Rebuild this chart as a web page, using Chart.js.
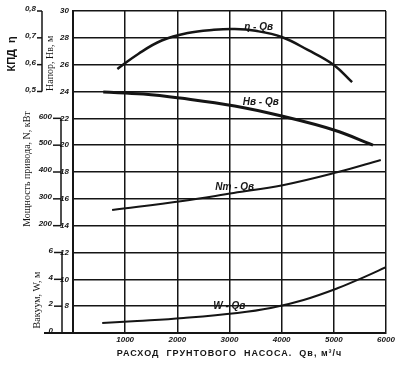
<!DOCTYPE html>
<html lang="ru">
<head>
<meta charset="utf-8">
<script src="https://cdn.jsdelivr.net/npm/chart.js@4/dist/chart.umd.min.js"></script>
<style>
  html, body { margin: 0; padding: 0; background: #fff; }
  #wrap { width: 411px; height: 366px; }
</style>
</head>
<body>
<div id="wrap"><canvas id="chart"></canvas></div>
<script>
// КПД η по расходу Q, м3/ч
const etaQ = [850, 1250, 1700, 2200, 2700, 3100, 3500, 4000, 4500, 5000, 5350];
const eta = [0.584, 0.64, 0.69, 0.718, 0.73, 0.733, 0.726, 0.703, 0.655, 0.599, 0.535];

// напор Hв, м
const headQ = [580, 1350, 2050, 3100, 4000, 5000, 5750];
const head = [23.96, 23.81, 23.51, 22.92, 22.17, 21.13, 20.01];

// мощность привода N, кВт
const powerQ = [750, 2100, 3080, 4020, 5080, 5900];
const power = [258, 292, 322, 351, 400, 445];

// вакуум W, м
const vacQ = [560, 1230, 2120, 3150, 3790, 4420, 5080, 5580, 6000];
const vac = [0.74, 0.89, 1.12, 1.49, 1.86, 2.46, 3.35, 4.17, 4.91];

// подписи шкал
const qTicks = [1000, 2000, 3000, 4000, 5000, 6000];
const headTicks = [8, 10, 12, 14, 16, 18, 20, 22, 24, 26, 28, 30];
const etaTicks = [0.5, 0.6, 0.7, 0.8];
const powerTicks = [200, 300, 400, 500, 600];
const vacTicks = [0, 2, 4, 6];

const ink = "#151515";
const numFont = { family: "'Liberation Sans', Arial, sans-serif", size: 8, style: "italic", weight: "bold" };
const serif = "10px 'Liberation Serif', 'DejaVu Serif', serif";

const toPoints = (xs, ys) => xs.map((x, i) => ({ x: x, y: ys[i] }));

// боковые шкалы-скобки, подписи осей и кривых
const sideAxes = {
    id: "sideAxes",
    afterDraw(chart) {
        const ctx = chart.ctx;
        const area = chart.chartArea;
        const left = area.left;
        ctx.save();
        ctx.strokeStyle = ink;
        ctx.fillStyle = ink;
        ctx.lineWidth = 1.5;

        const brackets = [
            { id: "yEta", values: etaTicks, x: -31, tick: 5, fmt: v => v.toFixed(1).replace(".", ",") },
            { id: "yN", values: powerTicks, x: -12, tick: 8, fmt: v => String(v) },
            { id: "yW", values: vacTicks, x: -11, tick: 8, fmt: v => String(v) }
        ];
        ctx.font = "italic bold 8px 'Liberation Sans', Arial, sans-serif";
        ctx.textAlign = "right";
        ctx.textBaseline = "middle";
        brackets.forEach(b => {
            const scale = chart.scales[b.id];
            const bx = left + b.x;
            const yTop = scale.getPixelForValue(Math.max(...b.values));
            const yBot = scale.getPixelForValue(Math.min(...b.values));
            ctx.beginPath();
            ctx.moveTo(bx, yTop);
            ctx.lineTo(bx, yBot);
            ctx.stroke();
            b.values.forEach(v => {
                const y = scale.getPixelForValue(v);
                ctx.beginPath();
                ctx.moveTo(bx - b.tick, y);
                ctx.lineTo(bx, y);
                ctx.stroke();
                ctx.fillText(b.fmt(v), bx - b.tick - 1, y - 2);
            });
        });

        // продолжение нижней линии под шкалой вакуума
        ctx.lineWidth = 2;
        ctx.beginPath();
        ctx.moveTo(left - 29, area.bottom);
        ctx.lineTo(left, area.bottom);
        ctx.stroke();

        const titles = [
            { text: "КПД  η", x: -61, id: "yEta", at: 0.64, font: "bold 11px 'Liberation Sans', Arial, sans-serif" },
            { text: "Напор, Нв, м", x: -23, id: "yH", at: 26.1, font: serif },
            { text: "Мощность привода, N, кВт", x: -46, id: "yN", at: 411, font: serif },
            { text: "Вакуум, W, м", x: -36, id: "yW", at: 2.46, font: serif }
        ];
        ctx.textAlign = "center";
        titles.forEach(t => {
            ctx.save();
            ctx.translate(left + t.x, chart.scales[t.id].getPixelForValue(t.at));
            ctx.rotate(-Math.PI / 2);
            ctx.font = t.font;
            ctx.fillText(t.text, 0, 0);
            ctx.restore();
        });

        // подписи кривых
        const curveLabels = [
            { ds: 0, idx: 6, dx: 3, dy: 1, text: "η - Qв" },
            { ds: 1, idx: 3, dx: 26, dy: 1, text: "Hв - Qв" },
            { ds: 2, idx: 2, dx: 1, dy: -1, text: "Nт - Qв" },
            { ds: 3, idx: 3, dx: -8, dy: -2, text: "W - Qв" }
        ];
        ctx.font = "italic bold 10px 'Liberation Sans', Arial, sans-serif";
        ctx.textBaseline = "bottom";
        curveLabels.forEach(l => {
            const p = chart.getDatasetMeta(l.ds).data[l.idx];
            ctx.fillText(l.text, p.x + l.dx, p.y + l.dy);
        });

        // подпись оси расхода
        ctx.font = "bold 9px 'Liberation Sans', Arial, sans-serif";
        ctx.textBaseline = "middle";
        if ("letterSpacing" in ctx) ctx.letterSpacing = "1px";
        ctx.fillText("РАСХОД  ГРУНТОВОГО  НАСОСА.  Qв, м³/ч", (area.left + area.right) / 2, 354);
        ctx.restore();
    }
};

const lineStyle = { borderColor: ink, borderWidth: 2.5, pointRadius: 0, tension: 0.4, fill: false };

new Chart(document.getElementById("chart"), {
    type: "line",
    data: {
        datasets: [
            { label: "η - Qв", data: toPoints(etaQ, eta), yAxisID: "yEta", ...lineStyle },
            { label: "Hв - Qв", data: toPoints(headQ, head), yAxisID: "yH", ...lineStyle, borderWidth: 3 },
            { label: "Nт - Qв", data: toPoints(powerQ, power), yAxisID: "yN", ...lineStyle, borderWidth: 2 },
            { label: "W - Qв", data: toPoints(vacQ, vac), yAxisID: "yW", ...lineStyle, borderWidth: 2 }
        ]
    },
    options: {
        responsive: true,
        maintainAspectRatio: false,
        animation: false,
        layout: { padding: { left: 55, right: 25, top: 11, bottom: 0 } },
        plugins: {
            legend: { display: false },
            tooltip: { enabled: false }
        },
        scales: {
            x: {
                type: "linear",
                min: 0,
                max: 6000,
                afterBuildTicks: s => { s.ticks = [0, ...qTicks].map(v => ({ value: v })); },
                ticks: { callback: v => v ? String(v) : "", font: numFont, color: ink, padding: 2, maxRotation: 0, autoSkip: false },
                grid: { color: ink, lineWidth: 1.5, drawTicks: false },
                border: { color: ink, width: 2 },
                afterFit: s => { s.height = 33; }
            },
            yH: {
                position: "left",
                min: 6,
                max: 30,
                afterBuildTicks: s => { s.ticks = [6, ...headTicks].map(v => ({ value: v })); },
                ticks: { callback: v => v > 6 ? String(v) : "", font: numFont, color: ink, padding: 4, autoSkip: false },
                grid: { color: ink, lineWidth: 1.5, drawTicks: false },
                border: { color: ink, width: 2 },
                afterFit: s => { s.width = 18; }
            },
            yEta: { display: false, min: -0.4, max: 0.8 },
            yN: { display: false, min: -200, max: 1000 },
            yW: { display: false, min: 0, max: 24 }
        }
    },
    plugins: [sideAxes]
});
</script>
</body>
</html>
